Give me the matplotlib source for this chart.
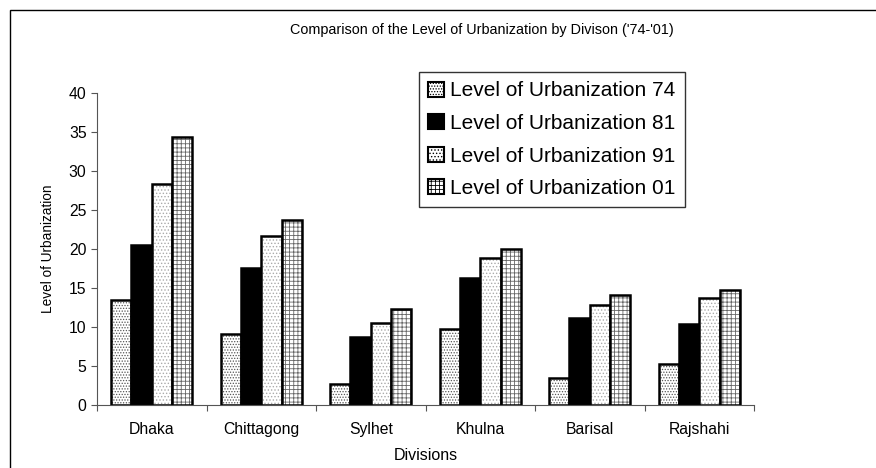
import matplotlib.pyplot as plt
import matplotlib.patches as mpatches
import numpy as np

plt.rcParams['font.family'] = ['Liberation Sans', 'DejaVu Sans']
plt.rcParams['hatch.linewidth'] = 0.6

divisions = ['Dhaka', 'Chittagong', 'Sylhet', 'Khulna', 'Barisal', 'Rajshahi']
series = ['Level of Urbanization 74', 'Level of Urbanization 81',
          'Level of Urbanization 91', 'Level of Urbanization 01']
urb_74 = [13.5, 9.1, 2.7, 9.7, 3.4, 5.2]
urb_81 = [20.5, 17.6, 8.7, 16.3, 11.2, 10.4]
urb_91 = [28.3, 21.7, 10.5, 18.9, 12.8, 13.7]
urb_01 = [34.3, 23.7, 12.3, 20.0, 14.1, 14.7]

values = [urb_74, urb_81, urb_91, urb_01]
# fill, hatch, hatch colour
styles = [('white', '......', '#555555'),
          ('black', '', 'black'),
          ('white', '.....', '#aaaaaa'),
          ('white', '++++', '#666666')]

fig = plt.figure(figsize=(8.76, 4.68), dpi=100)
ax = fig.add_axes([97 / 876, 1 - 405 / 468, 657 / 876, 312 / 468])

x = np.arange(len(divisions)) + 0.5
w = 0.185
offsets = [-1.5 * w, -0.5 * w, 0.5 * w, 1.5 * w]

handles = []
for vals, off, (fc, hatch, hc), name in zip(values, offsets, styles, series):
    ax.bar(x + off, vals, w, color=fc, hatch=hatch, edgecolor=hc, linewidth=0)
    ax.bar(x + off, vals, w, fill=False, edgecolor='black', linewidth=1.8)
    handles.append(mpatches.Patch(facecolor=fc, hatch=hatch, edgecolor='black',
                                  linewidth=1.5, label=name))

ax.set_xlim(0, 6)
ax.set_ylim(0, 40)
ax.set_yticks(range(0, 41, 5))
ax.set_xticks(range(7))
ax.set_xticklabels([])
ax.set_xticks(x, minor=True)
ax.set_xticklabels(divisions, minor=True)
ax.tick_params(axis='x', which='minor', length=0, pad=12, labelsize=11.3)
ax.tick_params(axis='x', which='major', length=4, direction='out', color='#555555')
ax.tick_params(axis='y', length=4, direction='out', color='#555555', labelsize=11.3)
for s in ['top', 'right']:
    ax.spines[s].set_visible(False)
for s in ['left', 'bottom']:
    ax.spines[s].set_color('#555555')

ax.set_ylabel('Level of Urbanization', fontsize=9.8, labelpad=10)
ax.set_xlabel('Divisions', fontsize=11.5, labelpad=8)

fig.text(482 / 876, 1 - 30 / 468,
         "Comparison of the Level of Urbanization by Divison ('74-'01)",
         ha='center', va='center', fontsize=10.4)

leg = ax.legend(handles=handles, loc='upper left', bbox_to_anchor=(322 / 657, 1.067),
                fontsize=15, frameon=True, fancybox=False, edgecolor='black',
                handlelength=0.75, handleheight=0.75, handletextpad=0.3,
                borderpad=0.45, labelspacing=0.65, borderaxespad=0)
leg.get_frame().set_linewidth(1.0)

fig.patches.append(mpatches.Rectangle((10 / 876, -0.1), 1.2, 1 - 10 / 468 + 0.1,
                                      transform=fig.transFigure, fill=False,
                                      edgecolor='black', linewidth=1.0))

fig.savefig('out.png', dpi=100)
